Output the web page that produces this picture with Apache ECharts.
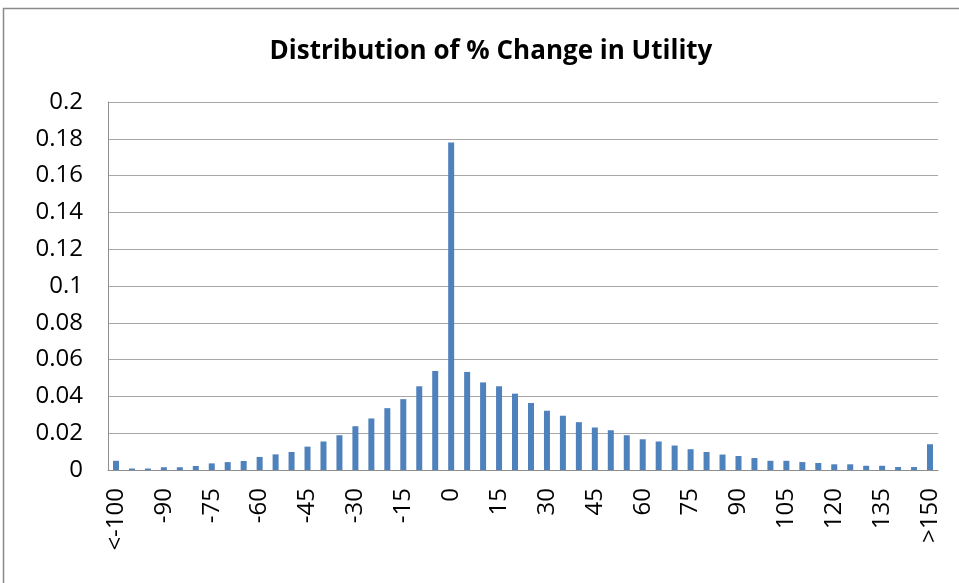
<!DOCTYPE html>
<html>
<head>
<meta charset="utf-8">
<title>Distribution of % Change in Utility</title>
<script src="https://cdn.jsdelivr.net/npm/echarts@6/dist/echarts.min.js"></script>
<style>
    html, body { margin: 0; padding: 0; background: #fff; }
    #main { width: 959px; height: 583px; }
</style>
</head>
<body>
<div id="main"></div>
<script>
// 分类：区间下界，首尾为开区间
var categories = ['<-100', '-100', '-95', '-90', '-85', '-80', '-75', '-70', '-65', '-60',
    '-55', '-50', '-45', '-40', '-35', '-30', '-25', '-20', '-15', '-10',
    '-5', '0', '5', '10', '15', '20', '25', '30', '35', '40',
    '45', '50', '55', '60', '65', '70', '75', '80', '85', '90',
    '95', '100', '105', '110', '115', '120', '125', '130', '135', '140',
    '145', '>150'];

// 每个区间的占比
var shares = [0.005, 0.0008, 0.0008, 0.0015, 0.0015, 0.0022, 0.0036, 0.0043, 0.0049, 0.0071,
    0.0085, 0.0098, 0.0127, 0.0155, 0.0189, 0.0238, 0.028, 0.0336, 0.0385, 0.0455,
    0.0538, 0.178, 0.0533, 0.0476, 0.0455, 0.0415, 0.0364, 0.0322, 0.0295, 0.026,
    0.0231, 0.0216, 0.0189, 0.0167, 0.0155, 0.0133, 0.0113, 0.0098, 0.0084, 0.0076,
    0.0065, 0.005, 0.005, 0.0043, 0.0038, 0.0031, 0.0031, 0.0023, 0.0023, 0.0016,
    0.0016, 0.014];

var yMin = 0;
var yMax = 0.2;
var yStep = 0.02;

var font = '"Open Sans", "Noto Sans", sans-serif';

var myChart = echarts.init(document.getElementById('main'), null, {renderer: 'canvas'});
var option = {
    animation: false,
    backgroundColor: '#fff',
    title: {
        text: 'Distribution of % Change in Utility',
        left: 486,
        top: 34,
        textAlign: 'center',
        textStyle: {
            fontFamily: font,
            fontWeight: 'bold',
            fontSize: 26,
            color: '#000'
        }
    },
    // 外边框
    graphic: [{
        type: 'rect',
        shape: {x: 3.5, y: 8.5, width: 1000, height: 1000},
        style: {fill: 'none', stroke: '#8a8a8a', lineWidth: 1.5},
        silent: true
    }],
    grid: {
        left: 108,
        top: 102,
        width: 830,
        height: 368
    },
    xAxis: {
        type: 'category',
        data: categories,
        axisLine: {lineStyle: {color: '#8e8e8e', width: 1}},
        axisTick: {show: false},
        axisLabel: {
            interval: 2,
            rotate: 90,
            margin: 18,
            fontFamily: font,
            fontSize: 24,
            color: '#000'
        }
    },
    yAxis: {
        type: 'value',
        min: yMin,
        max: yMax,
        interval: yStep,
        axisLine: {show: true, lineStyle: {color: '#8e8e8e', width: 1}},
        axisTick: {show: false},
        splitLine: {lineStyle: {color: '#a6a6a6', width: 1}},
        axisLabel: {
            margin: 25,
            fontFamily: font,
            fontSize: 24,
            color: '#000',
            formatter: function (v) {
                return String(+v.toFixed(2));
            }
        }
    },
    series: [{
        type: 'bar',
        data: shares,
        barWidth: 6,
        itemStyle: {color: '#4f81bd'}
    }]
};
myChart.setOption(option);
</script>
</body>
</html>
